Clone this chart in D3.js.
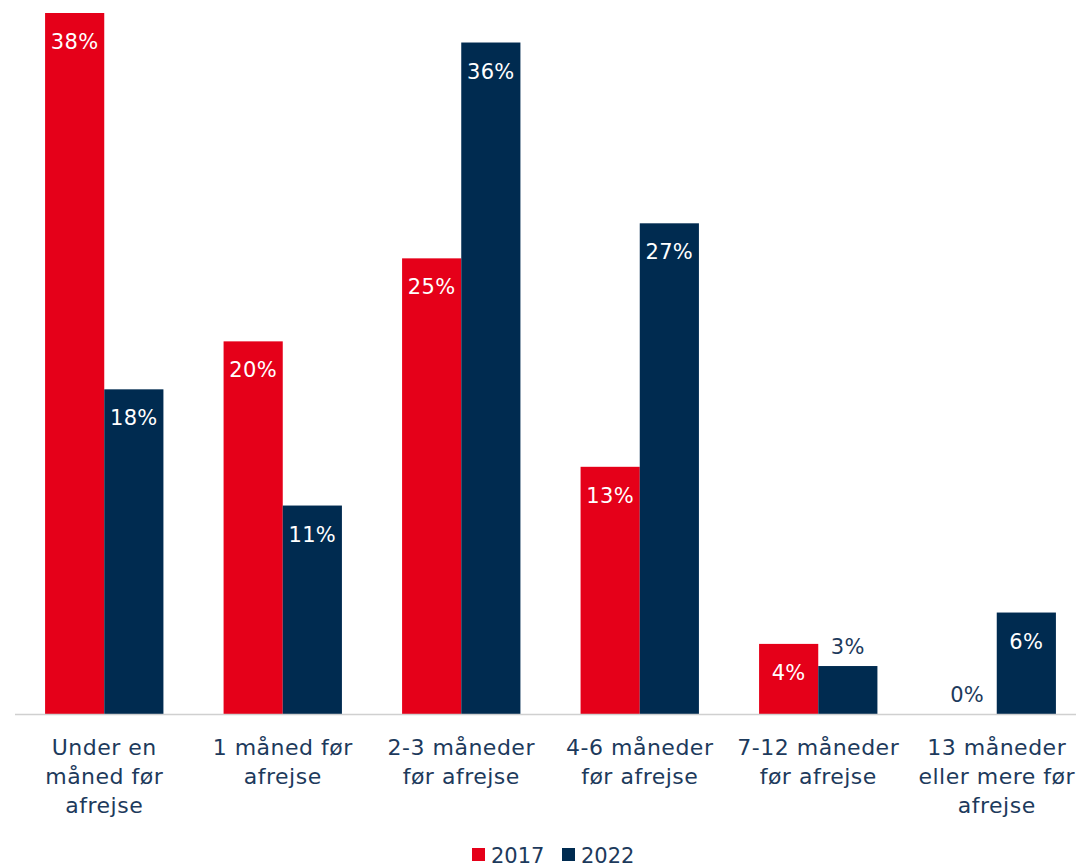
<!DOCTYPE html>
<html>
<head>
<meta charset="utf-8">
<script src="https://cdn.jsdelivr.net/npm/d3@7"></script>
<style>
  body { margin: 0; background: #fff; }
  svg { display: block; font-family: "DejaVu Sans", sans-serif; }
</style>
</head>
<body>
<div id="chart"></div>
<script>
const CATEGORIES = [
  ["Under en", "måned før", "afrejse"],
  ["1 måned før", "afrejse"],
  ["2-3 måneder", "før afrejse"],
  ["4-6 måneder", "før afrejse"],
  ["7-12 måneder", "før afrejse"],
  ["13 måneder", "eller mere før", "afrejse"]
];
const SERIES = ["2017", "2022"];
const VALUES_2017 = [38.0, 20.2, 24.7, 13.4, 3.8, 0];
const VALUES_2022 = [17.6, 11.3, 36.4, 26.6, 2.6, 5.5];
const COLORS = ["#e50019", "#002b50"];
const TEXT_COLOR = "#1d3a5c";

const width = 1076;
const height = 867;
const baseline = 714;

const svg = d3.select("#chart")
  .append("svg")
  .attr("width", width)
  .attr("height", height);

const catKeys = CATEGORIES.map((d, i) => i);

const x = d3.scaleBand()
  .domain(catKeys)
  .range([15, 15 + 178.5 * 6])
  .paddingInner(0.337)
  .paddingOuter(0.1685);

const xSub = d3.scaleBand()
  .domain(SERIES)
  .range([0, x.bandwidth()]);

const y = d3.scaleLinear()
  .domain([0, 38])
  .range([baseline, 13]);

const rows = catKeys.map(i => ({
  cat: i,
  vals: [
    { key: SERIES[0], value: VALUES_2017[i], color: COLORS[0] },
    { key: SERIES[1], value: VALUES_2022[i], color: COLORS[1] }
  ]
}));

const groups = svg.selectAll(".group")
  .data(rows)
  .enter()
  .append("g")
  .attr("class", "group")
  .attr("transform", d => `translate(${x(d.cat)},0)`);

groups.selectAll("rect")
  .data(d => d.vals)
  .enter()
  .append("rect")
  .attr("x", d => xSub(d.key))
  .attr("y", d => y(d.value))
  .attr("width", xSub.bandwidth())
  .attr("height", d => baseline - y(d.value))
  .attr("fill", d => d.color);

groups.selectAll(".val")
  .data(d => d.vals)
  .enter()
  .append("text")
  .attr("class", "val")
  .attr("x", d => xSub(d.key) + xSub.bandwidth() / 2)
  .attr("y", d => {
    const h = baseline - y(d.value);
    return h > 55 ? y(d.value) + 36 : y(d.value) - 12;
  })
  .attr("text-anchor", "middle")
  .attr("font-size", 21)
  .attr("letter-spacing", 0.3)
  .attr("fill", d => (baseline - y(d.value)) > 55 ? "#fff" : TEXT_COLOR)
  .text(d => Math.round(d.value) + "%");

// axis line
svg.append("line")
  .attr("x1", 15)
  .attr("x2", width)
  .attr("y1", baseline + 0.5)
  .attr("y2", baseline + 0.5)
  .attr("stroke", "#d0d0d0")
  .attr("stroke-width", 1.5);

// category labels
const labels = svg.selectAll(".cat")
  .data(rows)
  .enter()
  .append("text")
  .attr("class", "cat")
  .attr("text-anchor", "middle")
  .attr("font-size", 22)
  .attr("letter-spacing", 0.5)
  .attr("fill", TEXT_COLOR)
  .attr("transform", d => `translate(${x(d.cat) + x.bandwidth() / 2},755)`);

labels.selectAll("tspan")
  .data(d => CATEGORIES[d.cat])
  .enter()
  .append("tspan")
  .attr("x", 0)
  .attr("dy", (d, i) => i === 0 ? 0 : 29)
  .text(d => d);

// legend
const legend = svg.append("g")
  .attr("transform", "translate(472,848)");

const items = legend.selectAll(".leg")
  .data(SERIES)
  .enter()
  .append("g")
  .attr("class", "leg")
  .attr("transform", (d, i) => `translate(${i * 90},0)`);

items.append("rect")
  .attr("width", 13)
  .attr("height", 13)
  .attr("fill", (d, i) => COLORS[i]);

items.append("text")
  .attr("x", 19)
  .attr("y", 15)
  .attr("font-size", 21)
  .attr("fill", TEXT_COLOR)
  .text(d => d);
</script>
</body>
</html>
